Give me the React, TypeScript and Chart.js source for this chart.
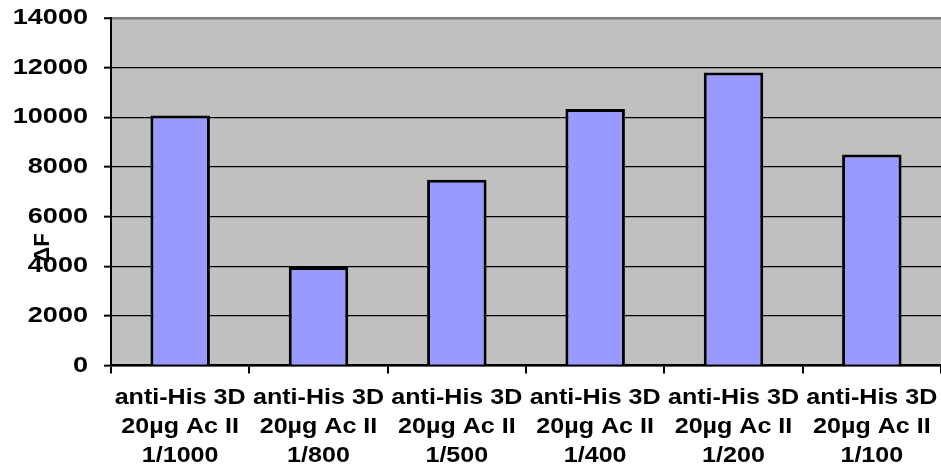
import React, { useEffect, useRef } from "react";
import { Chart, registerables } from "chart.js";

Chart.register(...registerables);

const categories: string[][] = [
  ["anti-His 3D", "20µg Ac II", "1/1000"],
  ["anti-His 3D", "20µg Ac II", "1/800"],
  ["anti-His 3D", "20µg Ac II", "1/500"],
  ["anti-His 3D", "20µg Ac II", "1/400"],
  ["anti-His 3D", "20µg Ac II", "1/200"],
  ["anti-His 3D", "20µg Ac II", "1/100"],
];
const values: number[] = [10070, 3970, 7480, 10330, 11800, 8500];
const yMin = 0;
const yMax = 14000;
const yStep = 2000;
const yTitle = "ΔF";

const SX_X = 1.14;
const SX_Y = 1.23;
const FONT = "'Liberation Sans', Arial, sans-serif";

export default function App() {
  const ref = useRef<HTMLCanvasElement | null>(null);

  useEffect(() => {
    document.body.style.margin = "0";
    const canvas = ref.current!;
    const ctx: any = canvas.getContext("2d");
    const orig = ctx.fillText;
    ctx.fillText = function (text: string, x: number, y: number) {
      if (ctx.__noStretch) return orig.call(this, text, x, y);
      const sx = this.textAlign === "right" ? SX_Y : SX_X;
      this.save();
      this.translate(x, y);
      this.scale(sx, 1);
      orig.call(this, text, 0, 0);
      this.restore();
    };

    const bgPlugin = {
      id: "plotBg",
      beforeDraw(chart: any) {
        const { ctx: c, chartArea: a } = chart;
        c.save();
        c.fillStyle = "#C0C0C0";
        c.fillRect(a.left, a.top, a.right - a.left, a.bottom - a.top);
        c.restore();
      },
      afterDraw(chart: any) {
        const c = chart.ctx;
        c.save();
        c.__noStretch = true;
        c.translate(43, 248);
        c.rotate(-Math.PI / 2);
        c.font = `bold 22px ${FONT}`;
        c.fillStyle = "#000";
        c.textAlign = "center";
        c.textBaseline = "middle";
        c.fillText(yTitle, 0, 0);
        c.__noStretch = false;
        c.restore();
      },
    };

    const chart = new Chart(canvas, {
      type: "bar",
      data: {
        labels: categories,
        datasets: [
          {
            data: values,
            backgroundColor: "#9999FF",
            borderColor: "#000000",
            borderWidth: 3,
            barPercentage: 0.43,
            categoryPercentage: 1,
            borderSkipped: "start",
          },
        ],
      },
      options: {
        animation: false,
        responsive: false,
        devicePixelRatio: 1,
        layout: { padding: { top: 18, right: 0, left: 0, bottom: 0 } },
        plugins: { legend: { display: false }, tooltip: { enabled: false } },
        scales: {
          x: {
            grid: {
              offset: true,
              drawOnChartArea: false,
              drawTicks: true,
              tickLength: 8,
              color: "#000",
              lineWidth: 2,
            },
            border: { color: "#000", width: 2.5 },
            ticks: {
              color: "#000",
              font: { family: FONT, size: 22, weight: "bold", lineHeight: 1.32 },
              padding: 10,
              maxRotation: 0,
              minRotation: 0,
              autoSkip: false,
            },
            afterFit: (s: any) => {
              s.height = 104.5;
              s.paddingLeft = 0;
              s.paddingRight = 0;
            },
          },
          y: {
            min: yMin,
            max: yMax,
            ticks: {
              stepSize: yStep,
              color: "#000",
              font: { family: FONT, size: 22, weight: "bold" },
              padding: 16,
              callback: (v: any) => String(v),
            },
            grid: {
              color: (c: any) => (c.tick && c.tick.value === yMax ? "#808080" : "#000"),
              lineWidth: (c: any) => (c.tick && c.tick.value === yMax ? 2.5 : 1.3),
              tickLength: 7,
              tickColor: "#000",
              tickWidth: 2,
            },
            border: { color: "#000", width: 2 },
            afterFit: (s: any) => {
              s.width = 111;
              s.paddingTop = 0;
              s.paddingBottom = 0;
            },
          },
        },
      } as any,
      plugins: [bgPlugin],
    });

    return () => {
      chart.destroy();
    };
  }, []);

  return (
    <div style={{ position: "absolute", left: 0, top: 0, width: 941, height: 470 }}>
      <canvas ref={ref} width={941} height={470} />
    </div>
  );
}
